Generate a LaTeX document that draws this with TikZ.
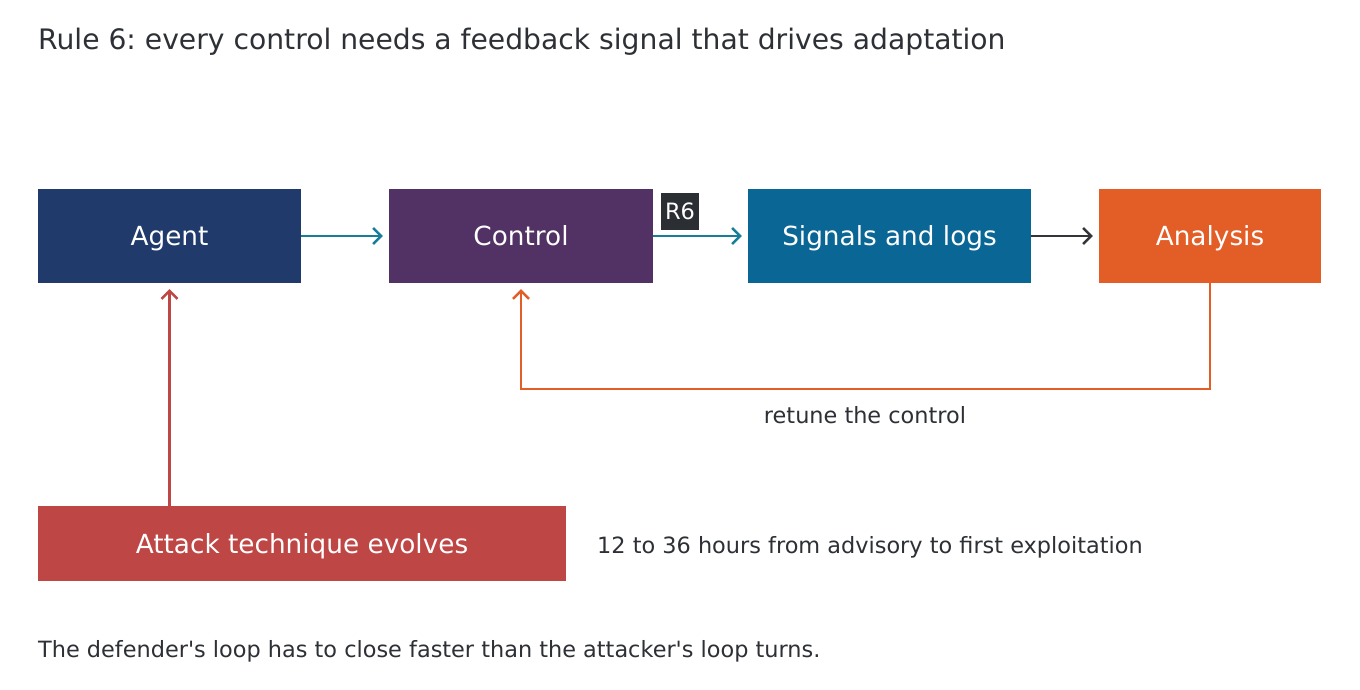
\documentclass[tikz,border=0pt]{standalone}
\usepackage{fontspec}
\setmainfont{DejaVu Sans}[Ligatures=TeXOff]
\usetikzlibrary{arrows.meta}
\frenchspacing
\definecolor{txt}{HTML}{2D3035}
\definecolor{navy}{HTML}{1F3A6B}
\definecolor{purp}{HTML}{523264}
\definecolor{sblue}{HTML}{0A6694}
\definecolor{orng}{HTML}{E35D27}
\definecolor{rred}{HTML}{BE4644}
\definecolor{teal}{HTML}{167E9A}
\definecolor{tagbg}{HTML}{2B2F33}
\definecolor{dk}{HTML}{333539}
\tikzset{
  box/.style={draw=none, inner sep=0pt, text=white, font=\fontsize{26.3}{26.3}\selectfont, text height=19.2pt, text depth=0pt},
  arr/.style={line width=2.5pt, -{Straight Barb[length=8pt,width=16pt,line width=2.5pt]}},
  lbl/.style={text=txt, inner sep=0pt, text height=16.35pt, text depth=0pt}
}
\begin{document}
\begin{tikzpicture}[x=1pt,y=-1pt]
\useasboundingbox (0,0) rectangle (1360,689);
\fill[white] (0,0) rectangle (1360,689);
\node[lbl, anchor=west, font=\fontsize{28.2}{28.2}\selectfont, text height=20.6pt] (title) at (38,39.5) {Rule 6: every control needs a feedback signal that drives adaptation};
\node[box, fill=navy, minimum width=263pt, minimum height=94pt] (agent) at (169.5,236) {Agent};
\node[box, fill=purp, minimum width=264pt, minimum height=94pt] (control) at (521,236) {Control};
\node[box, fill=sblue, minimum width=283pt, minimum height=94pt] (signals) at (889.5,236) {Signals and logs};
\node[box, fill=orng, minimum width=222pt, minimum height=94pt] (analysis) at (1210,236) {Analysis};
\node[box, fill=rred, minimum width=528pt, minimum height=75pt] (attack) at (302,543.5) {Attack technique evolves};
\node[box, fill=tagbg, minimum width=38pt, minimum height=37pt, font=\fontsize{22.5}{22.5}\selectfont, text height=16.4pt] (tag) at (680,211.5) {R6};
\draw[arr, teal] (agent.east) -- ([xshift=-6pt]control.west);
\draw[arr, teal] (control.east) -- ([xshift=-6pt]signals.west);
\draw[arr, dk] (signals.east) -- ([xshift=-6pt]analysis.west);
\draw[arr, rred] (attack.north -| agent.south) -- ([yshift=-6pt]agent.south);
\coordinate (c1) at (1210,389);
\coordinate (c2) at (521,389);
\draw[arr, orng] (analysis.south) -- (c1) -- (c2) -- ([yshift=-6pt]control.south);
\node[lbl, font=\fontsize{22.4}{22.4}\selectfont] (retune) at (865,415.5) {retune the control};
\node[lbl, anchor=west, font=\fontsize{22.4}{22.4}\selectfont] (hours) at (597,545) {12 to 36 hours from advisory to first exploitation};
\node[lbl, anchor=west, font=\fontsize{22.4}{22.4}\selectfont] (foot) at (38,649) {The defender's loop has to close faster than the attacker's loop turns.};
\end{tikzpicture}
\end{document}
